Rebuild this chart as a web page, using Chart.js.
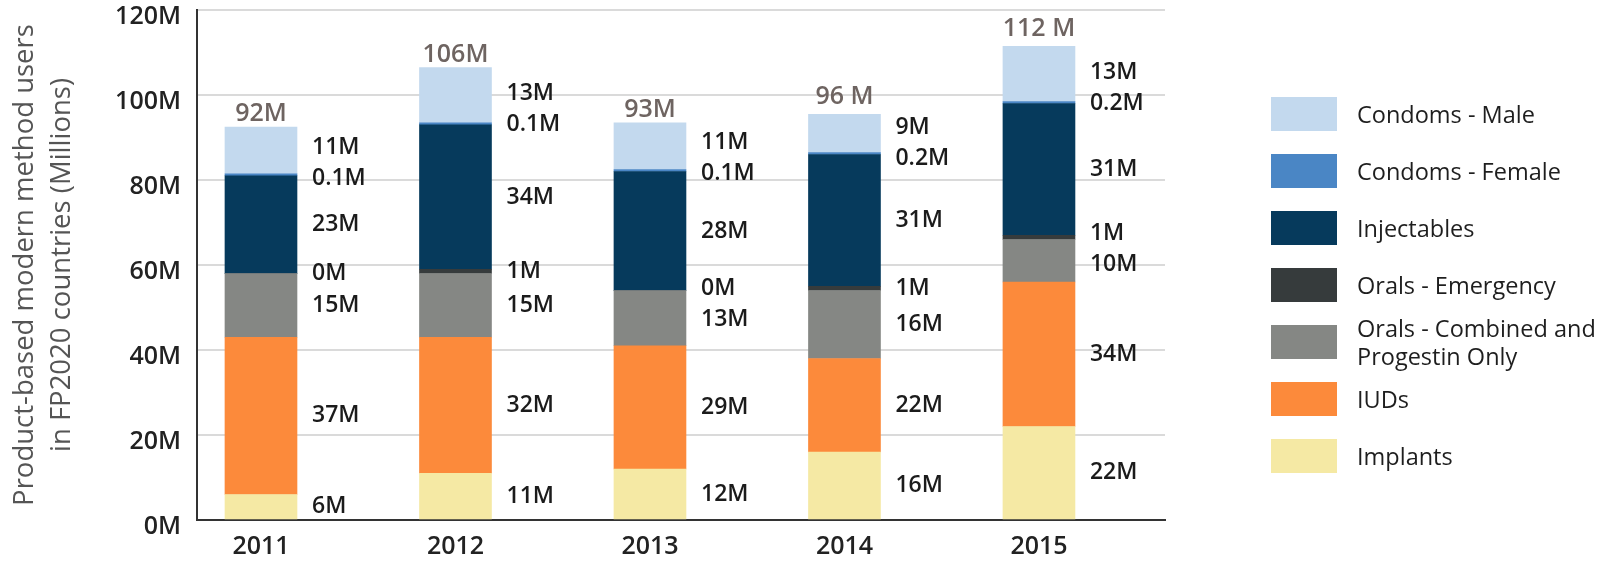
<!DOCTYPE html>
<html>
<head>
<meta charset="utf-8">
<script src="https://cdn.jsdelivr.net/npm/chart.js@4"></script>
<style>
  body{margin:0;background:#fff;font-family:"Open Sans",sans-serif;}
  #wrap{position:relative;width:1607px;height:562px;}
  #legend{position:absolute;left:1271px;top:85px;}
  .item{display:flex;align-items:center;height:57px;}
  .box{width:66px;height:34px;flex:none;}
  .txt{margin-left:20px;font-size:23.5px;font-weight:500;color:#1e1e1e;max-width:250px;line-height:28px;}
</style>
</head>
<body>
<div id="wrap">
  <canvas id="chart" width="1607" height="562"></canvas>
  <div id="legend"></div>
</div>
<script>
const years = [2011, 2012, 2013, 2014, 2015];

// stack order, bottom to top
const implants    = [6, 11, 12, 16, 22];
const iuds        = [37, 32, 29, 22, 34];
const oralsComb   = [15, 15, 13, 16, 10];
const oralsEmerg  = [0, 1, 0, 1, 1];
const injectables = [23, 34, 28, 31, 31];
const condomsFem  = [0.1, 0.1, 0.1, 0.2, 0.2];
const condomsMale = [11, 13, 11, 9, 13];

const totals      = [92, 106, 93, 96, 112];
const totalLabels = ["92M", "106M", "93M", "96 M", "112 M"];

const yTicks = [0, 20, 40, 60, 80, 100, 120];

const series = [
  {label:"Implants", values:implants, color:"#f5e9a4"},
  {label:"IUDs", values:iuds, color:"#fc8a3b"},
  {label:"Orals - Combined and Progestin Only", values:oralsComb, color:"#858784"},
  {label:"Orals - Emergency", values:oralsEmerg, color:"#363b3c"},
  {label:"Injectables", values:injectables, color:"#063a5c"},
  {label:"Condoms - Female", values:condomsFem, color:"#4a86c5"},
  {label:"Condoms - Male", values:condomsMale, color:"#c3d9ee"}
];

/* LEGEND */

const legend = document.getElementById("legend");

series.slice().reverse().forEach(s => {
  const row = document.createElement("div");
  row.className = "item";
  row.innerHTML = `<div class="box" style="background:${s.color}"></div><div class="txt">${s.label}</div>`;
  legend.appendChild(row);
});

/* LABELS */

const barLabels = {
  id:"barLabels",
  afterDatasetsDraw(chart){
    const ctx = chart.ctx;
    const yScale = chart.scales.y;
    const minGap = 31;

    ctx.save();

    years.forEach((yr, i) => {

      const items = chart.data.datasets.map((ds, d) => {
        const bar = chart.getDatasetMeta(d).data[i];
        return {
          text: ds.data[i].y + "M",
          x: bar.x + bar.width / 2 + 15,
          y: (bar.y + bar.base) / 2
        };
      });

      items.sort((a, b) => a.y - b.y);

      // push overlapping labels apart
      for (let k = 0; k < 40; k++){
        for (let j = 0; j < items.length - 1; j++){
          const gap = items[j + 1].y - items[j].y;
          if (gap < minGap){
            const shift = (minGap - gap) / 2;
            items[j].y -= shift;
            items[j + 1].y += shift;
          }
        }
      }

      ctx.font = "600 23px 'Open Sans'";
      ctx.fillStyle = "#1b1b1b";
      ctx.textAlign = "left";
      ctx.textBaseline = "middle";
      items.forEach(it => ctx.fillText(it.text, it.x, it.y));

      const topBar = chart.getDatasetMeta(0).data[i];
      ctx.font = "600 25px 'Open Sans'";
      ctx.fillStyle = "#6e6461";
      ctx.textAlign = "center";
      ctx.textBaseline = "alphabetic";
      ctx.fillText(totalLabels[i], topBar.x, yScale.getPixelForValue(totals[i]) - 8);
    });

    ctx.restore();
  }
};

/* CHART */

new Chart(document.getElementById("chart"), {

  type:"bar",

  data:{
    datasets: series.map(s => ({
      label: s.label,
      data: years.map((yr, i) => ({x: yr, y: s.values[i]})),
      backgroundColor: s.color,
      borderWidth: 0,
      barThickness: 72,
      minBarLength: s.label === "Condoms - Female" ? 2 : 0
    }))
  },

  options:{
    responsive:false,
    animation:false,
    layout:{ padding:{ top:10, right:442, left:0, bottom:0 } },
    plugins:{
      legend:{ display:false },
      tooltip:{ enabled:false }
    },
    scales:{
      x:{
        type:"linear",
        stacked:true,
        offset:false,
        min:2010.671,
        max:2015.648,
        grid:{ display:false, drawTicks:false, offset:false },
        border:{ display:true, color:"#333", width:2 },
        afterBuildTicks: s => { s.ticks = years.map(v => ({value:v})); },
        afterFit: s => { s.height = 42; },
        ticks:{
          padding:12,
          color:"#222",
          font:{ family:"Open Sans", size:25, weight:"600" },
          callback: v => String(v)
        }
      },
      y:{
        stacked:true,
        min:0,
        max:120,
        grid:{ color:"#dadada", lineWidth:2, drawTicks:false },
        border:{ display:true, color:"#333", width:2 },
        afterBuildTicks: s => { s.ticks = yTicks.map(v => ({value:v})); },
        afterFit: s => {
          s.width = 197;
          s.paddingTop = 0;
          s.paddingBottom = 0;
        },
        ticks:{
          padding:16,
          labelOffset:7,
          color:"#222",
          font:{ family:"Open Sans", size:25, weight:"600" },
          callback: v => v + "M"
        },
        title:{
          display:true,
          text:["Product-based modern method users", "in FP2020 countries (Millions)"],
          color:"#555",
          font:{ family:"Open Sans", size:27.5, weight:"400", lineHeight:1.36 },
          padding:{ top:6, bottom:0 }
        }
      }
    }
  },

  plugins:[barLabels]

});
</script>
</body>
</html>
